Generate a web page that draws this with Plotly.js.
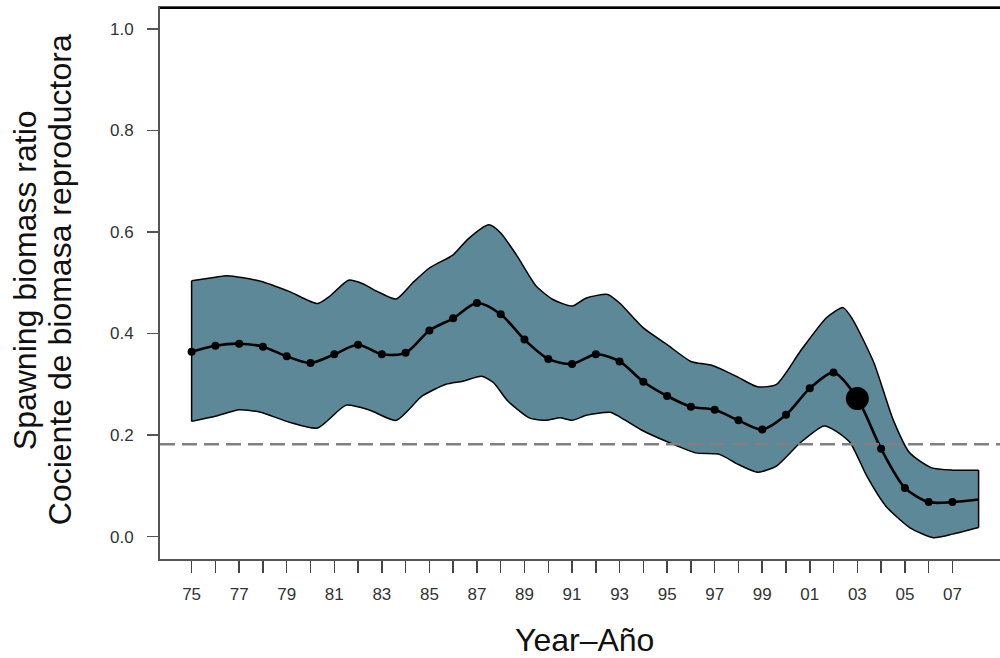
<!DOCTYPE html>
<html>
<head>
<meta charset="utf-8">
<script src="https://cdn.plot.ly/plotly-3.0.1.min.js"></script>
<style>
  html, body { margin: 0; padding: 0; background: #fff; }
  #chart { width: 1000px; height: 658px; }
</style>
</head>
<body>
<div id="chart"></div>
<script>
// 年份 (最后一个点是2008年初的末端)
const years = [1975, 1976, 1977, 1978, 1979, 1980, 1981, 1982, 1983, 1984,
  1985, 1986, 1987, 1988, 1989, 1990, 1991, 1992, 1993, 1994,
  1995, 1996, 1997, 1998, 1999, 2000, 2001, 2002, 2003, 2004,
  2005, 2006, 2007, 2008.1];
const sbr = [0.364, 0.376, 0.380, 0.374, 0.355, 0.342, 0.359, 0.378, 0.359, 0.362,
  0.406, 0.430, 0.460, 0.438, 0.388, 0.350, 0.340, 0.359, 0.345, 0.305,
  0.277, 0.256, 0.250, 0.229, 0.211, 0.240, 0.292, 0.323, 0.272, 0.173,
  0.096, 0.068, 0.068, 0.073];

// 置信区间上限
const upperYears = [1975.0, 1976.0, 1976.5, 1977.9, 1979.1, 1980.3, 1980.8, 1981.6, 1982.2, 1982.8,
  1983.6, 1984.3, 1985.0, 1986.0, 1986.6, 1987.5, 1988.0, 1988.7, 1989.5, 1990.2,
  1991.0, 1991.6, 1992.5, 1993.0, 1994.0, 1995.0, 1996.0, 1996.9, 1997.9, 1998.8,
  1999.6, 2000.6, 2001.7, 2002.4, 2002.8, 2003.7, 2004.5, 2005.2, 2006.1, 2007.0, 2008.1];
const upper = [0.504, 0.511, 0.514, 0.503, 0.483, 0.459, 0.473, 0.505, 0.498, 0.483,
  0.468, 0.500, 0.529, 0.555, 0.585, 0.614, 0.598, 0.552, 0.493, 0.467,
  0.454, 0.470, 0.477, 0.460, 0.411, 0.378, 0.345, 0.337, 0.316, 0.295,
  0.300, 0.365, 0.431, 0.451, 0.428, 0.342, 0.231, 0.165, 0.136, 0.131, 0.131];

// 置信区间下限
const lowerYears = [1975.0, 1976.0, 1977.0, 1977.9, 1979.0, 1980.3, 1981.5, 1982.5, 1983.6, 1984.7,
  1985.7, 1986.4, 1987.2, 1987.7, 1988.3, 1989.2, 1989.9, 1990.5, 1991.0, 1991.6,
  1992.6, 1993.0, 1994.0, 1995.1, 1996.2, 1997.2, 1998.0, 1998.8, 1999.6, 2000.6,
  2001.6, 2002.1, 2002.7, 2003.4, 2004.2, 2005.2, 2006.2, 2007.0, 2008.1];
const lower = [0.227, 0.237, 0.250, 0.245, 0.227, 0.214, 0.259, 0.249, 0.229, 0.277,
  0.300, 0.306, 0.316, 0.303, 0.267, 0.234, 0.229, 0.234, 0.229, 0.239,
  0.245, 0.236, 0.208, 0.185, 0.165, 0.162, 0.142, 0.127, 0.139, 0.185,
  0.218, 0.208, 0.185, 0.119, 0.060, 0.018, -0.002, 0.005, 0.018];

// 参考线 (虚线)
const refLevel = 0.182;
// 当前年份 (大圆点)
const currentYear = 2003;

// 刻度
const tickYears = [];
const tickLabels = [];
for (let y = 1975; y <= 2007; y++) {
  tickYears.push(y);
  tickLabels.push((y - 1975) % 2 === 0 ? String(y % 100).padStart(2, '0') : '');
}

const fillColor = '#5c8897';
const font = 'Liberation Sans, Arial, sans-serif';

const nPts = years.length - 1; // 点只画到2007
const markYears = years.slice(0, nPts);
const markVals = sbr.slice(0, nPts);
const markSizes = markYears.map(y => y === currentYear ? 23 : 8);

const traces = [
  {
    x: lowerYears, y: lower, type: 'scatter', mode: 'lines',
    line: { color: '#000', width: 1.5, shape: 'spline', smoothing: 0.6 },
    hoverinfo: 'skip', showlegend: false
  },
  {
    x: upperYears, y: upper, type: 'scatter', mode: 'lines',
    fill: 'tonexty', fillcolor: fillColor,
    line: { color: '#000', width: 1.5, shape: 'spline', smoothing: 0.6 },
    hoverinfo: 'skip', showlegend: false
  },
  {
    // 两端的竖线
    x: [lowerYears[0], upperYears[0], null, lowerYears[lowerYears.length - 1], upperYears[upperYears.length - 1]],
    y: [lower[0], upper[0], null, lower[lower.length - 1], upper[upper.length - 1]],
    type: 'scatter', mode: 'lines',
    line: { color: '#000', width: 1.5 },
    hoverinfo: 'skip', showlegend: false
  },
  {
    x: years, y: sbr, type: 'scatter', mode: 'lines',
    line: { color: '#000', width: 2.6, shape: 'spline', smoothing: 0.8 },
    showlegend: false
  },
  {
    x: markYears, y: markVals, type: 'scatter', mode: 'markers',
    marker: { color: '#000', size: markSizes, opacity: 1, line: { width: 0 } },
    showlegend: false
  }
];

const layout = {
  width: 1000,
  height: 658,
  margin: { l: 160, r: 0, t: 8, b: 99 },
  paper_bgcolor: '#fff',
  plot_bgcolor: '#fff',
  font: { family: font, color: '#333' },
  xaxis: {
    range: [1973.67, 2009.0],
    tickvals: tickYears,
    ticktext: tickLabels,
    ticks: 'outside', ticklen: 12, tickwidth: 1.5, tickcolor: '#444',
    ticklabelstandoff: 7,
    tickfont: { size: 17, color: '#333' },
    showgrid: false, zeroline: false,
    showline: true, linecolor: '#555', linewidth: 2, mirror: true
  },
  yaxis: {
    range: [-0.044, 1.041],
    tickvals: [0, 0.2, 0.4, 0.6, 0.8, 1.0],
    ticktext: ['0.0', '0.2', '0.4', '0.6', '0.8', '1.0'],
    ticks: 'outside', ticklen: 11, tickwidth: 1.5, tickcolor: '#555',
    ticklabelstandoff: 10,
    tickfont: { size: 17, color: '#333' },
    showgrid: false, zeroline: false,
    showline: true, linecolor: '#555', linewidth: 2
  },
  shapes: [
    {
      type: 'line', xref: 'paper', yref: 'y',
      x0: 0, x1: 1, y0: refLevel, y1: refLevel,
      line: { color: '#808080', width: 2.5, dash: '15px,7px' },
      layer: 'above'
    },
    {
      type: 'line', xref: 'paper', yref: 'paper',
      x0: 0, x1: 1, y0: 1, y1: 1,
      line: { color: '#000', width: 2 }
    }
  ],
  annotations: [
    {
      text: 'Spawning biomass ratio',
      xref: 'paper', yref: 'paper', x: 0, y: 0.506,
      xshift: -135, textangle: -90,
      xanchor: 'center', yanchor: 'middle', showarrow: false,
      font: { size: 32, color: '#111', family: font }
    },
    {
      text: 'Cociente de biomasa reproductora',
      xref: 'paper', yref: 'paper', x: 0, y: 0.506,
      xshift: -100, textangle: -90,
      xanchor: 'center', yanchor: 'middle', showarrow: false,
      font: { size: 32, color: '#111', family: font }
    },
    {
      text: 'Year\u2013Año',
      xref: 'paper', yref: 'paper', x: 0.505, y: 0,
      yshift: -81,
      xanchor: 'center', yanchor: 'middle', showarrow: false,
      font: { size: 32, color: '#111', family: font }
    }
  ]
};

Plotly.newPlot('chart', traces, layout, { displayModeBar: false, staticPlot: true });
</script>
</body>
</html>
